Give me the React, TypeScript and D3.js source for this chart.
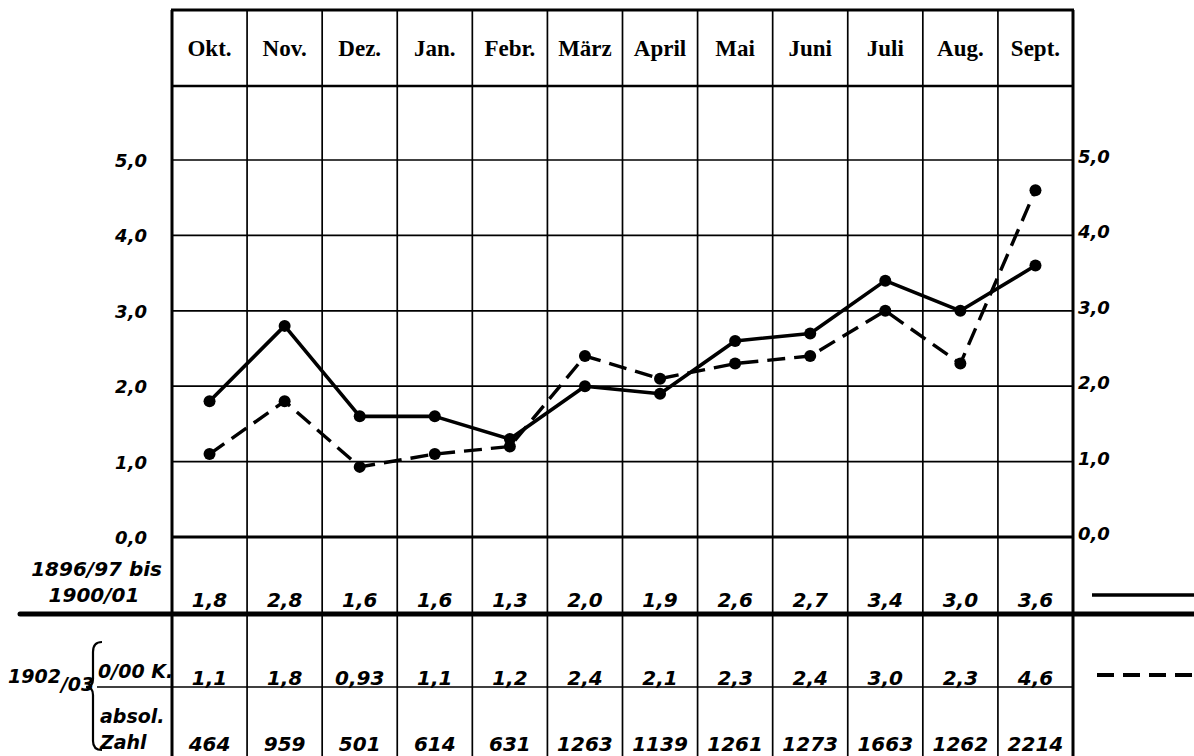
import React, { useEffect, useRef } from 'react';
import * as d3 from 'd3';

// months (header row)
const months = ['Okt.', 'Nov.', 'Dez.', 'Jan.', 'Febr.', 'März', 'April', 'Mai', 'Juni', 'Juli', 'Aug.', 'Sept.'];
// 1896/97 bis 1900/01, per mille
const avgValues = [1.8, 2.8, 1.6, 1.6, 1.3, 2.0, 1.9, 2.6, 2.7, 3.4, 3.0, 3.6];
const avgLabels = ['1,8', '2,8', '1,6', '1,6', '1,3', '2,0', '1,9', '2,6', '2,7', '3,4', '3,0', '3,6'];
// 1902/03, per mille
const curValues = [1.1, 1.8, 0.93, 1.1, 1.2, 2.4, 2.1, 2.3, 2.4, 3.0, 2.3, 4.6];
const curLabels = ['1,1', '1,8', '0,93', '1,1', '1,2', '2,4', '2,1', '2,3', '2,4', '3,0', '2,3', '4,6'];
// 1902/03 absolute numbers
const absValues = [464, 959, 501, 614, 631, 1263, 1139, 1261, 1273, 1663, 1262, 2214];
const yTicks = [0, 1, 2, 3, 4, 5];

const numFont = '"DejaVu Sans", sans-serif';
const headFont = '"Liberation Serif", serif';

const App = () => {
  const svgRef = useRef<SVGSVGElement>(null);

  useEffect(() => {
    const width = 1194;
    const height = 756;
    const left = 172;
    const right = 1073;
    const top = 10;
    const headBottom = 86;

    const svg = d3.select(svgRef.current).attr('width', width).attr('height', height);
    svg.selectAll('*').remove();
    svg.append('rect').attr('width', width).attr('height', height).attr('fill', '#fff');

    const x = d3.scaleBand<string>().domain(months).range([left, right]).padding(0);
    const y = d3.scaleLinear().domain([0, 5]).range([537, 160]);
    const cx = (m: string) => (x(m) as number) + x.bandwidth() / 2;

    const g = svg.append('g').attr('stroke', '#000').attr('fill', 'none');

    // horizontal grid lines
    g.selectAll('.hgrid')
      .data(yTicks.filter(t => t > 0))
      .enter()
      .append('line')
      .attr('x1', left).attr('x2', right)
      .attr('y1', d => y(d)).attr('y2', d => y(d))
      .attr('stroke-width', 1.7);

    // zero line
    g.append('line').attr('x1', left).attr('x2', right).attr('y1', y(0)).attr('y2', y(0)).attr('stroke-width', 2.8);
    // header bottom
    g.append('line').attr('x1', left).attr('x2', right).attr('y1', headBottom).attr('y2', headBottom).attr('stroke-width', 2.4);
    // top
    g.append('line').attr('x1', left - 1).attr('x2', right + 1).attr('y1', top).attr('y2', top).attr('stroke-width', 2.8);

    // column lines
    g.selectAll('.vgrid')
      .data(months.slice(1))
      .enter()
      .append('line')
      .attr('x1', d => x(d) as number).attr('x2', d => x(d) as number)
      .attr('y1', top).attr('y2', height)
      .attr('stroke-width', 1.7);

    // outer frame sides
    g.append('line').attr('x1', left).attr('x2', left).attr('y1', top).attr('y2', height).attr('stroke-width', 3);
    g.append('line').attr('x1', right).attr('x2', right).attr('y1', top).attr('y2', height).attr('stroke-width', 3);

    // thick separator and table line
    g.append('line').attr('x1', 20).attr('x2', width).attr('y1', 614).attr('y2', 614).attr('stroke-width', 5).attr('stroke-linecap', 'round');
    g.append('line').attr('x1', 97).attr('x2', right).attr('y1', 687).attr('y2', 687).attr('stroke-width', 1.7);

    // brace
    g.append('path')
      .attr('d', 'M102,642 Q93,642 93,652 L93,679 Q93,687 86,687 Q93,687 93,695 L93,741 Q93,750 102,750')
      .attr('stroke-width', 2.2);

    // legend samples
    g.append('line').attr('x1', 1092).attr('x2', width).attr('y1', 595).attr('y2', 595).attr('stroke-width', 3.4);
    g.append('line').attr('x1', 1097).attr('x2', width).attr('y1', 675).attr('y2', 675)
      .attr('stroke-width', 3.8).attr('stroke-dasharray', '17,9');

    // series lines
    const line = d3.line<number>().x((_, i) => cx(months[i])).y(d => y(d));
    g.append('path').attr('d', line(avgValues)).attr('stroke-width', 3.6).attr('stroke-linejoin', 'round');
    g.append('path').attr('d', line(curValues)).attr('stroke-width', 3.4).attr('stroke-dasharray', '18,9');

    const dots = svg.append('g').attr('fill', '#000');
    [avgValues, curValues].forEach(vals => {
      dots.selectAll(null)
        .data(vals)
        .enter()
        .append('circle')
        .attr('cx', (_, i) => cx(months[i]))
        .attr('cy', d => y(d))
        .attr('r', 6);
    });

    // text
    const t = svg.append('g').attr('fill', '#000');

    t.selectAll('.head')
      .data(months)
      .enter()
      .append('text')
      .attr('x', d => cx(d))
      .attr('y', 56)
      .attr('text-anchor', 'middle')
      .attr('font-family', headFont)
      .attr('font-weight', 'bold')
      .attr('font-size', 23)
      .text(d => d);

    const fmt = (v: number) => d3.format('.1f')(v).replace('.', ',');
    const num = (sel: any) =>
      sel.attr('font-family', numFont).attr('font-weight', 'bold').attr('font-style', 'italic');

    num(t.selectAll('.yl')
      .data(yTicks)
      .enter()
      .append('text')
      .attr('x', 147)
      .attr('y', d => y(d) + 7)
      .attr('text-anchor', 'end')
      .attr('font-size', 18)
      .text(fmt));

    num(t.selectAll('.yr')
      .data(yTicks)
      .enter()
      .append('text')
      .attr('x', 1078)
      .attr('y', d => y(d) + 3)
      .attr('font-size', 18)
      .text(fmt));

    const row = (labels: (string | number)[], yy: number) =>
      num(t.selectAll(null)
        .data(labels)
        .enter()
        .append('text')
        .attr('x', (_, i) => cx(months[i]))
        .attr('y', yy)
        .attr('text-anchor', 'middle')
        .attr('font-size', 20)
        .text(d => String(d)));

    row(avgLabels, 607);
    row(curLabels, 685);
    row(absValues, 751);

    const lbl = (s: string, xx: number, yy: number, anchor = 'start', size = 20) =>
      num(t.append('text').attr('x', xx).attr('y', yy).attr('font-size', size).attr('text-anchor', anchor).text(s));

    lbl('1896/97 bis', 162, 576, 'end');
    lbl('1900/01', 94, 602, 'middle');
    lbl('0/00 K.', 98, 678, 'start', 19);
    lbl('absol.', 100, 723, 'start', 19);
    lbl('Zahl', 100, 749, 'start', 19);

    const yr = num(t.append('text').attr('x', 8).attr('y', 683).attr('font-size', 19));
    yr.append('tspan').text('1902');
    yr.append('tspan').attr('dy', 8).text('/03');
  }, []);

  return (
    <svg ref={svgRef} style={{ position: 'absolute', left: 0, top: 0, display: 'block' }}></svg>
  );
};

export default App;
